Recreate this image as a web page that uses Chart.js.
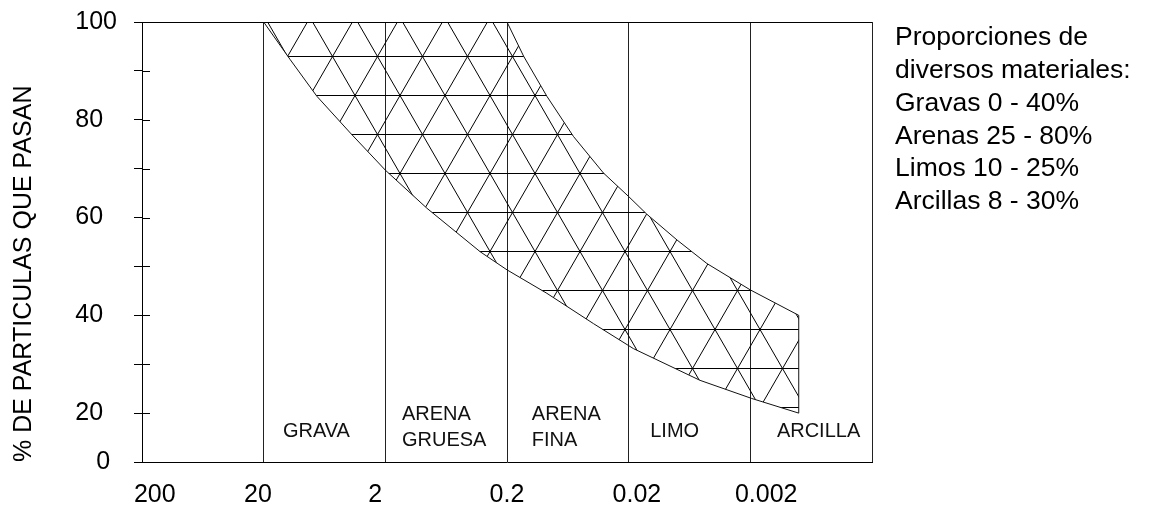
<!DOCTYPE html>
<html>
<head>
<meta charset="utf-8">
<script src="https://cdn.jsdelivr.net/npm/chart.js@4.4.1/dist/chart.umd.min.js"></script>
<style>
  html, body { margin: 0; padding: 0; background: #fff; }
  #contenedor { width: 1151px; height: 505px; position: relative; }
</style>
</head>
<body>
<div id="contenedor"><canvas id="curva-granulometrica"></canvas></div>
<script>
// limite grueso de la banda (curva de abajo), tamaño en mm y % que pasa
const tamGrueso  = [20, 12.1, 7.3, 3.88, 2, 0.91, 0.332, 0.2, 0.094, 0.0389, 0.0183, 0.00518, 0.00195, 0.0008];
const pasaGrueso = [100, 92.3, 84.8, 77.3, 69.7, 61.9, 53.0, 49.3, 44.5, 38.3, 33.2, 26.7, 23.0, 20];
// limite fino de la banda (curva de arriba)
const tamFino  = [0.0008, 0.002, 0.00455, 0.008, 0.0142, 0.02, 0.0322, 0.0569, 0.094, 0.146, 0.2];
const pasaFino = [40, 45.2, 50.6, 55.4, 60.7, 64.3, 69.1, 76.6, 84.8, 93.0, 100];

// eje x: divisiones (mm) y etiquetas
const divisiones = [200, 20, 2, 0.2, 0.02, 0.002, 0.0002];
const etiquetasX = ['200', '20', '2', '0.2', '0.02', '0.002'];
const anclasX    = [157, 22.3, 2.42, 0.2, 0.0171, 0.00148];

// eje y
const valoresY   = [10, 20, 30, 40, 50, 60, 70, 80, 90, 100];
const etiquetasY = ['0 ', '20  ', '', '40  ', '', '60  ', '', '80  ', '', '100'];

const zonas = ['GRAVA', 'ARENA\nGRUESA', 'ARENA\nFINA', 'LIMO', 'ARCILLA'];
const notas = ['Proporciones de', 'diversos materiales:', 'Gravas 0 - 40%',
               'Arenas 25 - 80%', 'Limos 10 - 25%', 'Arcillas 8 - 30%'];

const fuente = "'Liberation Sans', Arial, sans-serif";
Chart.defaults.font.family = fuente;
Chart.defaults.color = '#000';

// poligono cerrado: curva gruesa de ida, curva fina de vuelta
const poligono = [];
for (let i = 0; i < tamGrueso.length; i++) poligono.push({x: tamGrueso[i], y: pasaGrueso[i]});
for (let i = 0; i < tamFino.length; i++) poligono.push({x: tamFino[i], y: pasaFino[i]});

// trama de triangulos (lado 45, altura de fila 39)
function crearTrama() {
  const paso = 45, fila = 39;
  const ancho = paso, alto = 2 * fila;
  const c = document.createElement('canvas');
  c.width = ancho; c.height = alto;
  const g = c.getContext('2d');
  g.strokeStyle = '#000';
  g.lineWidth = 1;
  g.beginPath();
  for (let k = 0; k < 2; k++) { g.moveTo(0, k * fila + 0.5); g.lineTo(ancho, k * fila + 0.5); }
  for (let j = -3; j <= 3; j++) {
    const x0 = j * paso;
    g.moveTo(x0, 0.5); g.lineTo(x0 + ancho, alto + 0.5);
    g.moveTo(x0, 0.5); g.lineTo(x0 - ancho, alto + 0.5);
  }
  g.stroke();
  const p = g.createPattern(c, 'repeat');
  p.setTransform(new DOMMatrix().translate(310, 17));
  return p;
}

const anotaciones = {
  id: 'anotaciones',
  afterDraw(chart) {
    const {ctx, chartArea, scales} = chart;
    ctx.save();
    // marcas interiores del eje y
    ctx.strokeStyle = '#000'; ctx.lineWidth = 1;
    ctx.beginPath();
    scales.y.ticks.forEach(t => {
      if (t.value <= 10 || t.value >= 100) return;
      const py = Math.round(scales.y.getPixelForValue(t.value)) + 0.5;
      ctx.moveTo(chartArea.left, py); ctx.lineTo(chartArea.left + 8, py);
    });
    ctx.stroke();

    // nombres de las zonas
    const posZonas = [[13.9, 16.3], [1.46, 19.8], [0.125, 19.8], [0.0133, 16.3], [0.00121, 16.3]];
    ctx.fillStyle = '#111';
    ctx.font = '20px ' + fuente;
    ctx.textAlign = 'left'; ctx.textBaseline = 'middle';
    zonas.forEach((z, i) => {
      const px = scales.x.getPixelForValue(posZonas[i][0]);
      let py = scales.y.getPixelForValue(posZonas[i][1]);
      z.split('\n').forEach(l => { ctx.fillText(l, px, py); py += 26; });
    });

    // texto de la derecha
    ctx.fillStyle = '#000';
    ctx.font = '26.5px ' + fuente;
    ctx.textBaseline = 'alphabetic';
    notas.forEach((n, i) => ctx.fillText(n, chartArea.right + 23, 45 + i * 32.85));
    ctx.restore();
  }
};

new Chart(document.getElementById('curva-granulometrica'), {
  type: 'line',
  data: {
    datasets: [{
      data: poligono,
      borderColor: '#111',
      borderWidth: 1,
      pointRadius: 0,
      tension: 0,
      fill: 'shape',
      backgroundColor: crearTrama()
    }]
  },
  options: {
    responsive: true,
    maintainAspectRatio: false,
    animation: false,
    layout: { padding: { top: 22, right: 279, left: 0, bottom: 0 } },
    plugins: { legend: { display: false }, tooltip: { enabled: false } },
    scales: {
      x: {
        type: 'logarithmic', reverse: true, min: 0.0002, max: 200, weight: 0,
        afterBuildTicks: s => { s.ticks = divisiones.map(v => ({value: v})); },
        afterFit: s => { s.height = 0; },
        ticks: { display: false },
        grid: { color: '#222', lineWidth: 1, drawTicks: false },
        border: { color: '#000' }
      },
      xt: {
        type: 'logarithmic', reverse: true, min: 0.0002, max: 200, position: 'bottom', weight: 1,
        afterBuildTicks: s => { s.ticks = anclasX.map(v => ({value: v})); },
        afterFit: s => { s.height = 43; s.paddingLeft = 0; s.paddingRight = 0; },
        ticks: {
          autoSkip: false, maxRotation: 0, minRotation: 0, padding: 10,
          font: { size: 25 },
          callback: (v, i) => etiquetasX[i]
        },
        grid: { display: false },
        border: { display: false }
      },
      y: {
        min: 10, max: 100,
        afterBuildTicks: s => { s.ticks = valoresY.map(v => ({value: v})); },
        afterFit: s => { s.width = 142; s.paddingTop = 0; s.paddingBottom = 0; },
        ticks: { padding: 17, font: { size: 25 }, callback: (v, i) => etiquetasY[i] },
        grid: {
          color: c => (c.tick && c.tick.value === 100) ? '#000' : 'transparent',
          tickColor: '#000', tickLength: 8, lineWidth: 1
        },
        border: { color: '#000' },
        title: {
          display: true, text: '% DE PARTICULAS QUE PASAN', align: 'start',
          font: { size: 25 }, padding: { top: 9, bottom: 0 }
        }
      }
    }
  },
  plugins: [anotaciones]
});
</script>
</body>
</html>
